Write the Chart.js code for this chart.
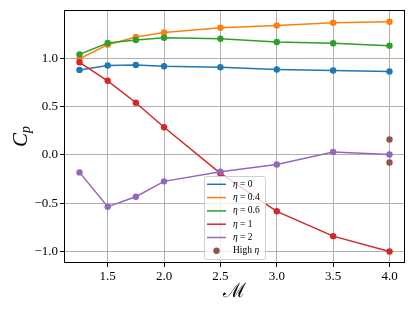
<!DOCTYPE html>
<html>
<head>
<meta charset="utf-8">
<script src="https://cdn.jsdelivr.net/npm/chart.js@4/dist/chart.umd.min.js"></script>
<style>
  body { margin: 0; background: #fff; }
  canvas { display: block; }
</style>
</head>
<body>
<canvas id="cpChart" width="415" height="311"></canvas>
<script>
// Mach numbers and pressure coefficient per eta
const mach = [1.25, 1.5, 1.75, 2.0, 2.5, 3.0, 3.5, 4.0];
const cpEta0 = [0.88, 0.925, 0.93, 0.918, 0.907, 0.884, 0.873, 0.863];
const cpEta04 = [0.995, 1.141, 1.22, 1.268, 1.316, 1.34, 1.368, 1.378];
const cpEta06 = [1.041, 1.159, 1.19, 1.213, 1.203, 1.169, 1.155, 1.131];
const cpEta1 = [0.959, 0.767, 0.54, 0.286, -0.192, -0.584, -0.841, -1.0];
const cpEta2 = [-0.181, -0.536, -0.433, -0.274, -0.175, -0.1, 0.031, 0.004];
const highEtaMach = [4.0, 4.0];
const highEtaCp = [0.159, -0.078];

const xTicks = [1.5, 2.0, 2.5, 3.0, 3.5, 4.0];
const yTicks = [-1.0, -0.5, 0.0, 0.5, 1.0];

const seriesNames = ['0', '0.4', '0.6', '1', '2'];
const seriesValues = [cpEta0, cpEta04, cpEta06, cpEta1, cpEta2];
const colors = ['#1f77b4', '#ff7f0e', '#2ca02c', '#d62728', '#9467bd'];
const brown = '#8c564b';

function pts(xs, ys) {
  return xs.map(function (x, i) { return { x: x, y: ys[i] }; });
}

var datasets = seriesValues.map(function (vals, i) {
  return {
    label: 'eta = ' + seriesNames[i],
    data: pts(mach, vals),
    borderColor: colors[i],
    backgroundColor: colors[i],
    borderWidth: 1.5,
    pointRadius: 3.2,
    pointBorderWidth: 0,
    showLine: true,
    order: 10 - i
  };
});
datasets.push({
  label: 'High eta',
  data: pts(highEtaMach, highEtaCp),
  backgroundColor: brown,
  borderColor: brown,
  pointRadius: 3.2,
  pointBorderWidth: 0,
  showLine: false,
  order: 1
});

var serif = "'Liberation Serif', 'DejaVu Serif', serif";

// frame, axis labels, legend
var extras = {
  id: 'extras',
  afterDraw: function (chart) {
    var c = chart.ctx, a = chart.chartArea;
    c.save();
    c.strokeStyle = '#000';
    c.lineWidth = 1;
    c.strokeRect(Math.round(a.left) + 0.5, Math.round(a.top) + 0.5,
      Math.round(a.right - a.left) - 1, Math.round(a.bottom - a.top) - 1);

    // y label C_p
    c.fillStyle = '#000';
    c.save();
    c.translate(20, 136);
    c.rotate(-Math.PI / 2);
    c.font = 'italic 21px ' + serif;
    c.textBaseline = 'alphabetic';
    c.textAlign = 'left';
    var cw = c.measureText('C').width;
    c.fillText('C', -cw / 2 - 4, 7);
    c.font = 'italic 14px ' + serif;
    c.fillText('p', cw / 2 - 4, 10);
    c.restore();

    // x label
    c.font = "20px 'DejaVu Serif', serif";
    c.textAlign = 'center';
    c.textBaseline = 'middle';
    c.fillText('\u2133', 234, 292);

    // legend
    var lx = 204, ly = 176, lw = 61, lh = 83;
    c.beginPath();
    c.roundRect(lx + 0.5, ly + 0.5, lw, lh, 2);
    c.fillStyle = 'rgba(255,255,255,0.8)';
    c.fill();
    c.strokeStyle = '#d0d0d0';
    c.lineWidth = 1;
    c.stroke();
    c.textBaseline = 'middle';
    c.textAlign = 'left';
    for (var i = 0; i < 6; i++) {
      var y = 184.3 + i * 13.3;
      if (i < 5) {
        c.strokeStyle = colors[i];
        c.lineWidth = 1.5;
        c.beginPath();
        c.moveTo(207, y);
        c.lineTo(226, y);
        c.stroke();
        c.fillStyle = '#000';
        c.font = 'italic 9.5px ' + serif;
        c.fillText('\u03b7', 233, y);
        var ew = c.measureText('\u03b7').width;
        c.font = '9.5px ' + serif;
        c.fillText(' = ' + seriesNames[i], 233 + ew, y);
      } else {
        c.fillStyle = brown;
        c.beginPath();
        c.arc(216.5, y, 3.2, 0, Math.PI * 2);
        c.fill();
        c.fillStyle = '#000';
        c.font = '9.5px ' + serif;
        c.fillText('High ', 233, y);
        var hw = c.measureText('High ').width;
        c.font = 'italic 9.5px ' + serif;
        c.fillText('\u03b7', 233 + hw, y);
      }
    }
    c.restore();
  }
};

var ctx = document.getElementById('cpChart').getContext('2d');
var cpChart = new Chart(ctx, {
  type: 'scatter',
  data: { datasets: datasets },
  options: {
    responsive: false,
    animation: false,
    layout: { padding: { left: 0, right: 10, top: 9, bottom: 0 } },
    plugins: { legend: { display: false }, tooltip: { enabled: false } },
    scales: {
      x: {
        type: 'linear',
        min: 1.1125,
        max: 4.1375,
        afterBuildTicks: function (s) { s.ticks = xTicks.map(function (v) { return { value: v }; }); },
        afterFit: function (s) { s.height = 48; },
        grid: { color: '#b0b0b0', lineWidth: 1, tickColor: '#000', tickLength: 4 },
        border: { display: false },
        ticks: {
          color: '#000',
          font: { family: serif, size: 13 },
          padding: 2,
          maxRotation: 0,
          callback: function (v) { return v.toFixed(1); }
        }
      },
      y: {
        type: 'linear',
        min: -1.119,
        max: 1.502,
        afterBuildTicks: function (s) { s.ticks = yTicks.map(function (v) { return { value: v }; }); },
        afterFit: function (s) { s.width = 64; },
        grid: { color: '#b0b0b0', lineWidth: 1, tickColor: '#000', tickLength: 4 },
        border: { display: false },
        ticks: {
          color: '#000',
          font: { family: serif, size: 13 },
          padding: 2,
          callback: function (v) { return v.toFixed(1).replace('-', '\u2212'); }
        }
      }
    }
  },
  plugins: [extras]
});
</script>
</body>
</html>
